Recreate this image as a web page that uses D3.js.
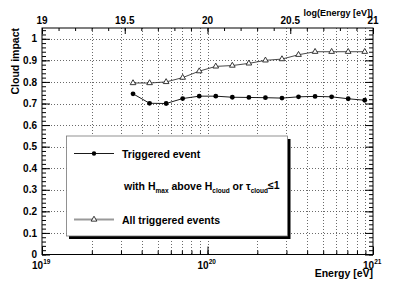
<!DOCTYPE html>
<html>
<head>
<meta charset="utf-8">
<script src="https://cdn.jsdelivr.net/npm/d3@7"></script>
<style>
  body { margin: 0; background: #fff; }
  text { font-family: "Liberation Sans", Arial, sans-serif; font-weight: bold; fill: #000; }
</style>
</head>
<body>
<div class="plot1"></div>
<script>
// log10(E/eV) of the bin centres
var logEnergy = [19.55, 19.65, 19.75, 19.85, 19.95, 20.05, 20.15, 20.25, 20.35, 20.45, 20.55, 20.65, 20.75, 20.85, 20.95];
// triggered events with Hmax above Hcloud or tau_cloud <= 1
var triggered = [0.745, 0.701, 0.700, 0.723, 0.734, 0.734, 0.729, 0.728, 0.727, 0.725, 0.731, 0.733, 0.731, 0.722, 0.715];
// all triggered events
var allTriggered = [0.795, 0.795, 0.800, 0.820, 0.850, 0.872, 0.876, 0.886, 0.900, 0.906, 0.926, 0.940, 0.940, 0.940, 0.940];

var yTicks = [0, 0.1, 0.2, 0.3, 0.4, 0.5, 0.6, 0.7, 0.8, 0.9, 1];
var topTicks = [19, 19.5, 20, 20.5, 21];
var bottomTicks = [{base: "10", exp: "19", v: 1e19}, {base: "10", exp: "20", v: 1e20}, {base: "10", exp: "21", v: 1e21}];

function plotCloud() {
  var width = 415;
  var height = 284;
  var left = 42, right = 373, top = 28, bottom = 254.5;

  var svg = d3.select(".plot1").append("svg")
    .attr("width", width)
    .attr("height", height);
  svg.append("rect").attr("width", width).attr("height", height).attr("fill", "#fff");

  var x = d3.scaleLog().domain([1e19, 1e21]).range([left, right]);
  var xTop = d3.scaleLinear().domain([19, 21]).range([left, right]);
  var y = d3.scaleLinear().domain([0, 1.05]).range([bottom, top]);

  // grid
  var grid = svg.append("g").attr("stroke", "#444").attr("stroke-width", 0.8).attr("stroke-dasharray", "1,2");
  grid.selectAll(".vg")
    .data(x.ticks().filter(function(d) { return d > 1e19 && d < 1e21; }))
    .join("line")
    .attr("x1", d => Math.round(x(d)) + 0.5).attr("x2", d => Math.round(x(d)) + 0.5)
    .attr("y1", top).attr("y2", bottom);
  grid.selectAll(".hg")
    .data(yTicks.filter(d => d > 0))
    .join("line")
    .attr("x1", left).attr("x2", right)
    .attr("y1", d => Math.round(y(d)) + 0.5).attr("y2", d => Math.round(y(d)) + 0.5);

  // y axis ticks (left and mirrored right)
  var yMinor = d3.range(0, 1.05, 0.02);
  svg.append("g").attr("transform", "translate(" + left + ",0)")
    .call(d3.axisRight(y).tickValues(yMinor).tickSize(4).tickFormat(""))
    .call(g => g.select(".domain").remove());
  svg.append("g").attr("transform", "translate(" + left + ",0)")
    .call(d3.axisRight(y).tickValues(yTicks).tickSize(8).tickFormat(""))
    .call(g => g.select(".domain").remove());
  svg.append("g").attr("transform", "translate(" + right + ",0)")
    .call(d3.axisLeft(y).tickValues(yMinor).tickSize(4).tickFormat(""))
    .call(g => g.select(".domain").remove());
  svg.append("g").attr("transform", "translate(" + right + ",0)")
    .call(d3.axisLeft(y).tickValues(yTicks).tickSize(8).tickFormat(""))
    .call(g => g.select(".domain").remove());

  svg.append("g")
    .selectAll("text")
    .data(yTicks)
    .join("text")
    .attr("x", 37)
    .attr("y", d => y(d))
    .attr("dy", "0.36em")
    .attr("text-anchor", "end")
    .style("font-size", "10px")
    .text(d => d);

  // top axis, log(E)
  svg.append("g").attr("transform", "translate(0," + top + ")")
    .call(d3.axisBottom(xTop).tickValues(d3.range(19, 21.01, 0.1)).tickSize(3).tickFormat(""))
    .call(g => g.select(".domain").remove());
  svg.append("g").attr("transform", "translate(0," + top + ")")
    .call(d3.axisBottom(xTop).tickValues(topTicks).tickSize(6).tickFormat(""))
    .call(g => g.select(".domain").remove());
  svg.append("g")
    .selectAll("text")
    .data(topTicks)
    .join("text")
    .attr("x", d => xTop(d))
    .attr("y", 23.5)
    .attr("text-anchor", "middle")
    .style("font-size", "10px")
    .text(d => d);

  // bottom axis, energy
  svg.append("g").attr("transform", "translate(0," + bottom + ")")
    .call(d3.axisTop(x).tickSize(4).tickFormat(""))
    .call(g => g.select(".domain").remove());
  svg.append("g").attr("transform", "translate(0," + bottom + ")")
    .call(d3.axisTop(x).tickValues(bottomTicks.map(d => d.v)).tickSize(8).tickFormat(""))
    .call(g => g.select(".domain").remove());
  var bl = svg.append("g")
    .selectAll("text")
    .data(bottomTicks)
    .join("text")
    .attr("x", d => x(d.v) - 10)
    .attr("y", 269)
    .style("font-size", "10px");
  bl.append("tspan").text(d => d.base);
  bl.append("tspan").attr("dy", -5).style("font-size", "6.5px").text(d => d.exp);

  // frame
  svg.append("rect")
    .attr("x", left).attr("y", top)
    .attr("width", right - left).attr("height", bottom - top)
    .attr("fill", "none").attr("stroke", "#000").attr("stroke-width", 1);

  // axis titles
  svg.append("text")
    .attr("transform", "translate(19," + top + ") rotate(-90)")
    .attr("text-anchor", "end")
    .style("font-size", "10.5px")
    .text("Cloud impact");
  svg.append("text")
    .attr("x", right).attr("y", 277)
    .attr("text-anchor", "end")
    .style("font-size", "10.5px")
    .text("Energy [eV]");
  svg.append("text")
    .attr("x", right).attr("y", 16)
    .attr("text-anchor", "end")
    .style("font-size", "9px")
    .text("log(Energy [eV])");

  var pts = logEnergy.map(function(d, i) {
    return {e: Math.pow(10, d), trig: triggered[i], all: allTriggered[i]};
  });
  var tri = d3.symbol().type(d3.symbolTriangle).size(14);

  // all triggered events
  svg.append("path")
    .datum(pts)
    .attr("fill", "none").attr("stroke", "#333").attr("stroke-width", 0.9)
    .attr("d", d3.line().x(d => x(d.e)).y(d => y(d.all)));
  svg.append("g")
    .selectAll("path")
    .data(pts)
    .join("path")
    .attr("transform", d => "translate(" + x(d.e) + "," + y(d.all) + ")")
    .attr("d", tri)
    .attr("fill", "#fff").attr("stroke", "#222").attr("stroke-width", 0.9);

  // triggered events with cloud cut
  svg.append("path")
    .datum(pts)
    .attr("fill", "none").attr("stroke", "#000").attr("stroke-width", 0.9)
    .attr("d", d3.line().x(d => x(d.e)).y(d => y(d.trig)));
  svg.append("g")
    .selectAll("circle")
    .data(pts)
    .join("circle")
    .attr("cx", d => x(d.e)).attr("cy", d => y(d.trig))
    .attr("r", 2.4)
    .attr("fill", "#000");

  // legend
  var leg = svg.append("g");
  leg.append("rect").attr("x", 69).attr("y", 139).attr("width", 221.5).attr("height", 100).attr("fill", "#000");
  leg.append("rect").attr("x", 66.5).attr("y", 136).attr("width", 221).attr("height", 100)
    .attr("fill", "#fff").attr("stroke", "#777").attr("stroke-width", 0.8);

  leg.append("line").attr("x1", 74).attr("x2", 114).attr("y1", 153.5).attr("y2", 153.5)
    .attr("stroke", "#000").attr("stroke-width", 0.9);
  leg.append("circle").attr("cx", 94).attr("cy", 153.5).attr("r", 2.2).attr("fill", "#000");
  leg.append("text").attr("x", 122).attr("y", 157.5).style("font-size", "10.5px").text("Triggered event");

  var t2 = leg.append("text").attr("x", 124).attr("y", 189.5).style("font-size", "10.5px");
  t2.append("tspan").text("with H");
  t2.append("tspan").attr("dy", 3).style("font-size", "6.5px").text("max");
  t2.append("tspan").attr("dy", -3).text(" above H");
  t2.append("tspan").attr("dy", 3).style("font-size", "6.5px").text("cloud");
  t2.append("tspan").attr("dy", -3).text(" or \u03c4");
  t2.append("tspan").attr("dy", 3).style("font-size", "6.5px").text("cloud");
  t2.append("tspan").attr("dy", -4).text("\u22641");

  leg.append("line").attr("x1", 74).attr("x2", 114).attr("y1", 219.5).attr("y2", 219.5)
    .attr("stroke", "#999").attr("stroke-width", 1.8);
  leg.append("path").attr("transform", "translate(94,219.5)").attr("d", tri)
    .attr("fill", "#fff").attr("stroke", "#222").attr("stroke-width", 0.9);
  leg.append("text").attr("x", 122).attr("y", 223.5).style("font-size", "10.5px").text("All triggered events");
}

plotCloud();
</script>
</body>
</html>
